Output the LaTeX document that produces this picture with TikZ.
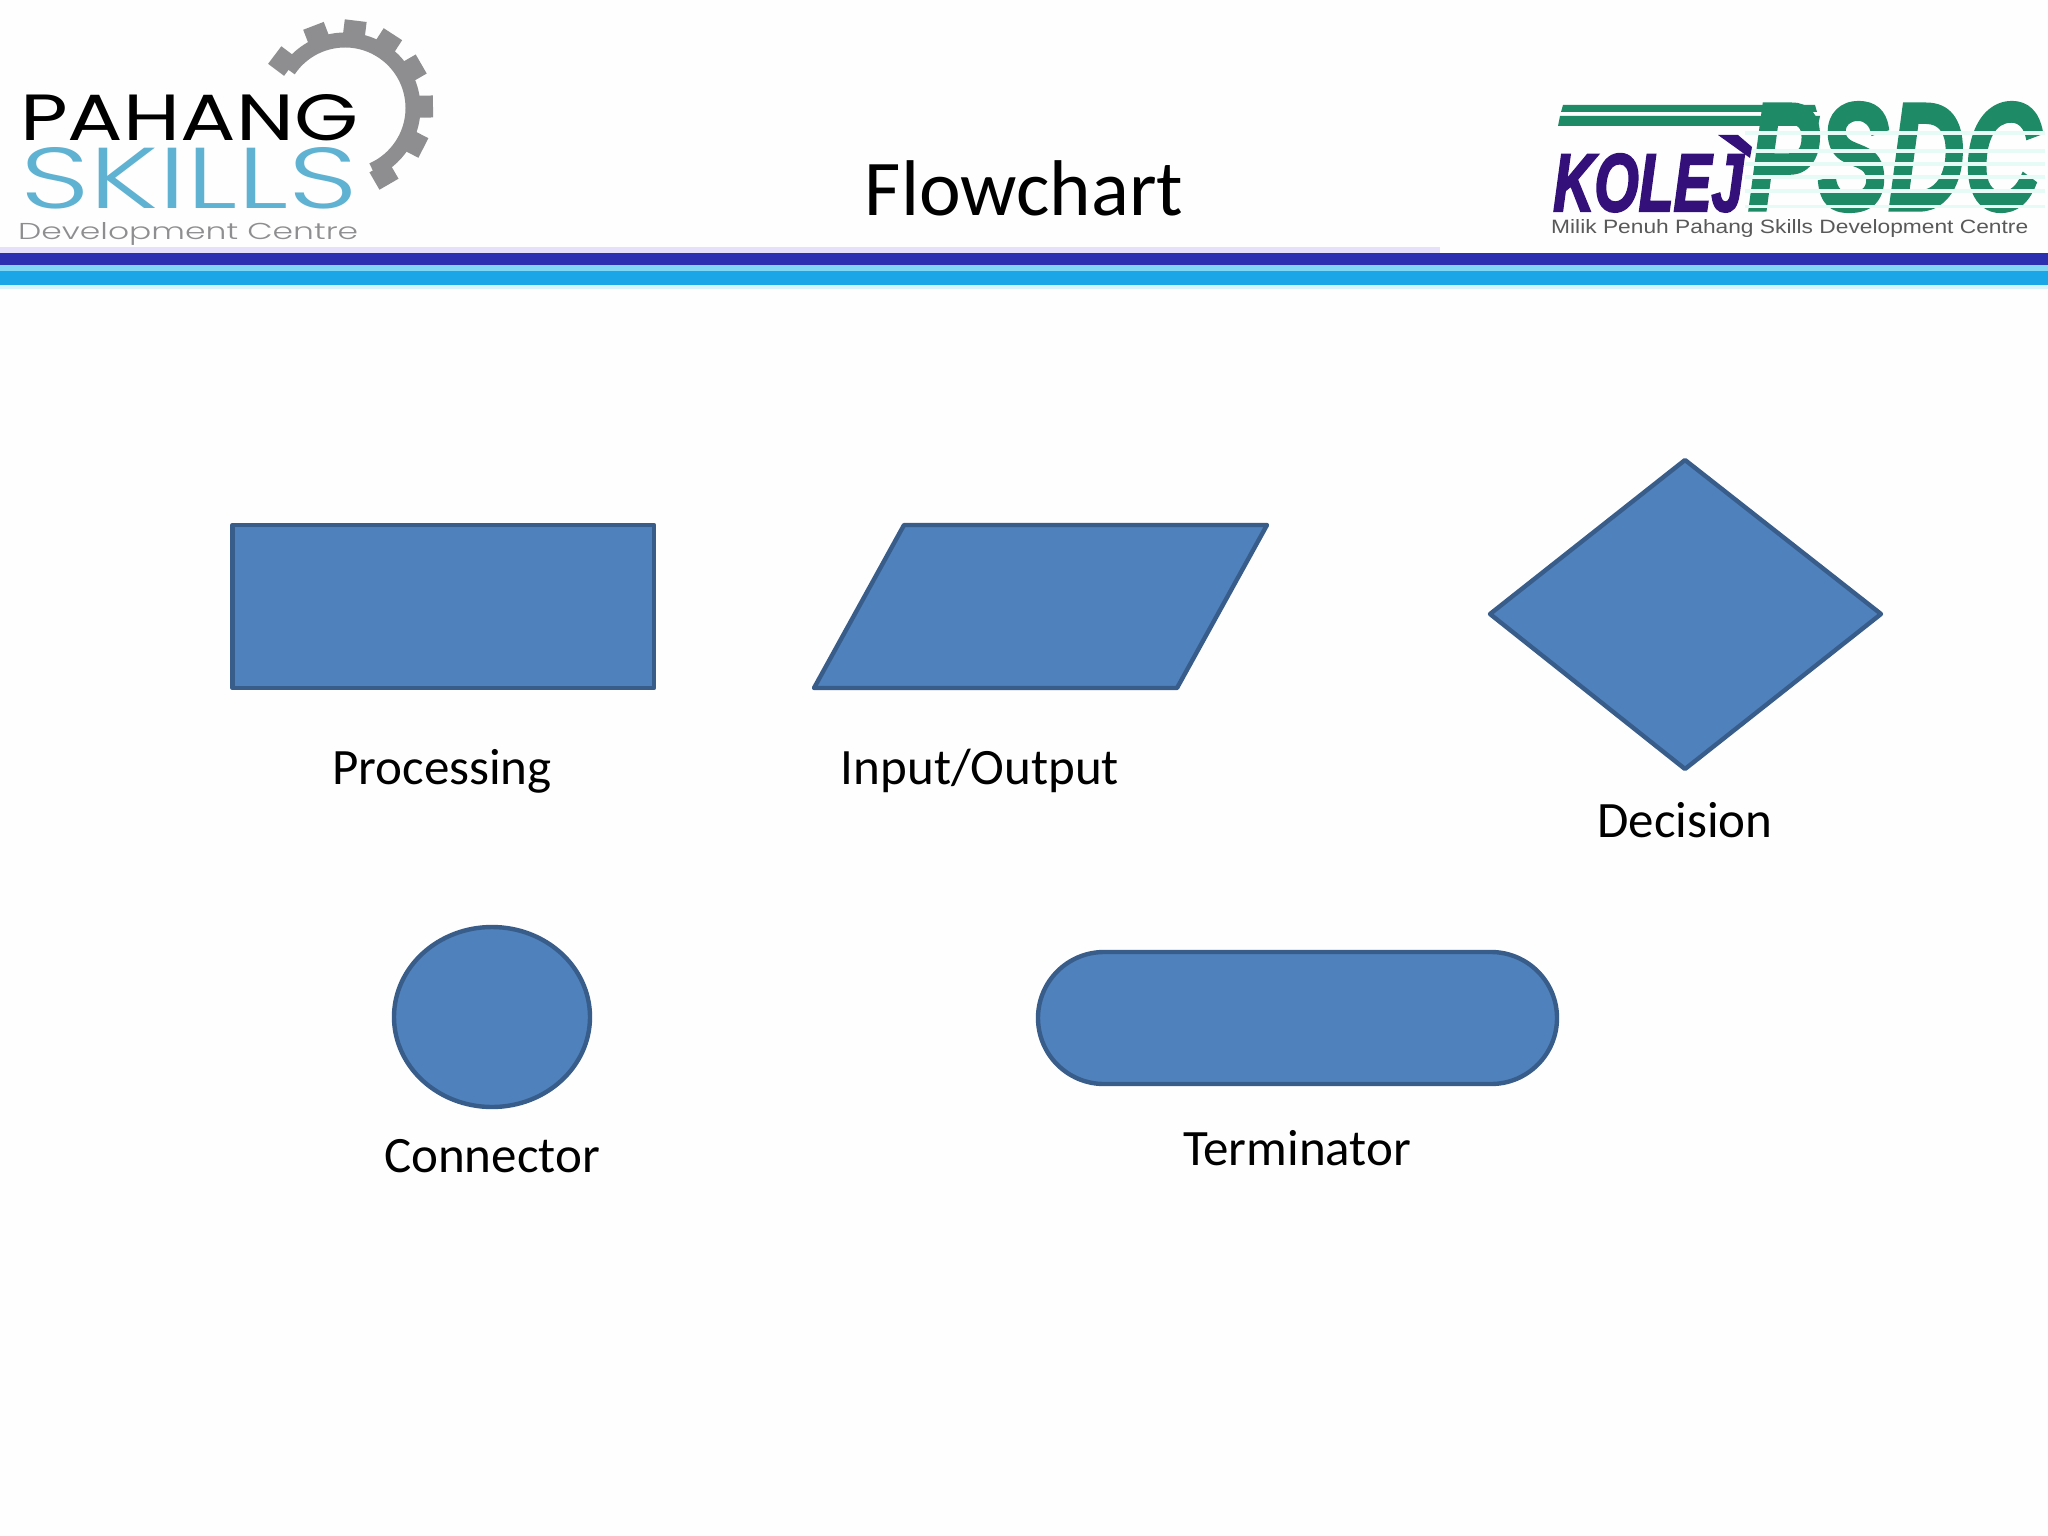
\documentclass[tikz,border=0pt]{standalone}
\usepackage{graphicx}
\usepackage{fontspec}
\setmainfont{Carlito}
\newfontfamily\logofont{Poppins}
\newfontfamily\logolight{Poppins Light}
\newfontfamily\capfont{Liberation Sans}
\newfontfamily\heavyfont[BoldItalicFeatures={FakeBold=3}]{Liberation Sans}
\usetikzlibrary{shapes.geometric}
\definecolor{shapefill}{HTML}{4F81BD}
\definecolor{shapeedge}{HTML}{385D8A}
\definecolor{barblue}{HTML}{2B2FB0}
\definecolor{barcyan}{HTML}{1BA6E8}
\definecolor{barpale}{HTML}{7FD6F5}
\definecolor{barlav}{HTML}{E6E0FA}
\definecolor{gearc}{HTML}{8E8E90}
\definecolor{skillc}{HTML}{5FB2D2}
\definecolor{kolejc}{HTML}{33107A}
\definecolor{psdcc}{HTML}{1E8A66}
\definecolor{stripec}{HTML}{E6FBF5}
\tikzset{
  x=1pt,y=-1pt,
  flow/.style={draw=shapeedge,fill=shapefill,line width=4.4pt,line join=round},
  caption/.style={inner sep=0pt,anchor=base,text=black,font=\fontsize{51}{51}\selectfont},
  logotext/.style={inner sep=0pt,anchor=south west}
}
\begin{document}
\begin{tikzpicture}
\useasboundingbox (0,0) rectangle (2048,1536);
\fill[white!99.5!black] (0,0) rectangle (2048,1536);
% bars
\fill[barlav] (0,247) rectangle (1440,253);
\fill[barblue] (0,253) rectangle (2048,265);
\fill[barpale] (0,265) rectangle (2048,271);
\fill[barcyan] (0,271) rectangle (2048,285);
\fill[barpale!30] (0,285) rectangle (2048,289);
% gear
\draw[gearc,line width=15pt] (345,108) ++(-146:68) arc[start angle=-146,end angle=66,radius=68];
\foreach \a in {143,111,83,57,30,1,-27,-60}
  \draw[gearc,line width=22pt,rounded corners=3pt] (345,108) ++(-\a:68) -- ++(-\a:20);
% left logo
\node[logotext] (pahang) at (20,141) {\resizebox{338pt}{46pt}{\logofont PAHANG}};
\node[logotext] (skills) at (20,209) {\resizebox{338pt}{61pt}{\logolight\color{skillc} SKILLS}};
\node[logotext] (devc) at (18,246) {\resizebox{340pt}{17pt}{\logolight\color{gearc} Development Centre}};
% right logo
\fill[psdcc] (1563,105) -- (1815,105) -- (1817,112) -- (1561,112) -- cycle;
\fill[psdcc] (1560,116) -- (1820,116) -- (1818,126) -- (1558,126) -- cycle;
\node[logotext] (psdc) at (1748,211) {\resizebox{292pt}{106pt}{\heavyfont\bfseries\itshape\color{psdcc} PSDC}};
\foreach \yy/\hh in {131/4,149/4,162/4,175/4,189/4,205/3}
  \fill[stripec] (1745,\yy) rectangle +(300,\hh);
\node[logotext] (kolej) at (1553,212) {\resizebox{190pt}{57pt}{\heavyfont\bfseries\itshape\color{kolejc} KOLEJ}};
\fill[kolejc] (1718,135) -- (1738,135) -- (1752,147) -- (1750,158) -- cycle;
\node[logotext] (milik) at (1551,238) {\resizebox{477pt}{14pt}{\capfont\color{black!65} Milik Penuh Pahang Skills Development Centre}};
% title
\node[inner sep=0pt,anchor=base,font=\fontsize{79}{79}\selectfont] (title) at (1024,215) {Flowchart};
% shapes
\draw[flow] (232.5,525) rectangle (654,688);
\draw[flow] (814,688) -- (904,525) -- (1267,525) -- (1177,688) -- cycle;
\draw[flow] (1685,460) -- (1881,614) -- (1685,769) -- (1490,614) -- cycle;
\draw[flow] (492,1017) ellipse[x radius=98,y radius=90];
\draw[flow] (1104,952) -- (1491,952) arc[start angle=90,end angle=-90,x radius=66,y radius=-66] -- (1104,1084) arc[start angle=-90,end angle=-270,x radius=66,y radius=-66] -- cycle;
% captions
\node[caption] (lproc) at (442,784) {Processing};
\node[caption] (lio) at (980,784) {Input/Output};
\node[caption] (ldec) at (1685,837) {Decision};
\node[caption] (lcon) at (492,1172) {Connector};
\node[caption] (lter) at (1297,1165) {Terminator};
\end{tikzpicture}
\end{document}
